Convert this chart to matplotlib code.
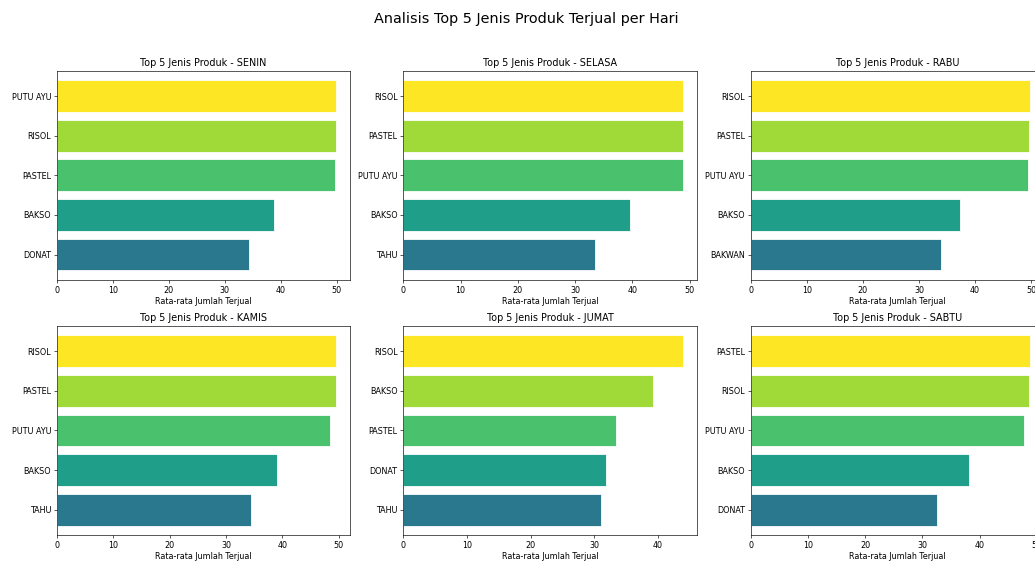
import matplotlib
matplotlib.use("Agg")
import matplotlib.pyplot as plt

# Average units sold per product, top 5 for each day
days = ["SENIN", "SELASA", "RABU", "KAMIS", "JUMAT", "SABTU"]

senin_products = ["PUTU AYU", "RISOL", "PASTEL", "BAKSO", "DONAT"]
senin_values = [49.9, 49.9, 49.7, 38.9, 34.3]

selasa_products = ["RISOL", "PASTEL", "PUTU AYU", "BAKSO", "TAHU"]
selasa_values = [48.8, 48.8, 48.8, 39.6, 33.5]

rabu_products = ["RISOL", "PASTEL", "PUTU AYU", "BAKSO", "BAKWAN"]
rabu_values = [49.8, 49.6, 49.5, 37.4, 34.0]

kamis_products = ["RISOL", "PASTEL", "PUTU AYU", "BAKSO", "TAHU"]
kamis_values = [49.5, 49.5, 48.5, 39.0, 34.5]

jumat_products = ["RISOL", "BAKSO", "PASTEL", "DONAT", "TAHU"]
jumat_values = [43.9, 39.2, 33.4, 31.9, 31.1]

sabtu_products = ["PASTEL", "RISOL", "PUTU AYU", "BAKSO", "DONAT"]
sabtu_values = [48.8, 48.6, 47.8, 38.1, 32.6]

products_by_day = [senin_products, selasa_products, rabu_products,
                   kamis_products, jumat_products, sabtu_products]
values_by_day = [senin_values, selasa_values, rabu_values,
                 kamis_values, jumat_values, sabtu_values]

# viridis shades, highest rank first
bar_colors = ["#fde725", "#a0da39", "#4ac16d", "#1f9e89", "#2a788e"]

fig = plt.figure(figsize=(18, 561 / 57.5), dpi=57.5)

col_left = [0.0548, 0.3897, 0.7253]
row_bottom = [0.501, 0.0463]
ax_w, ax_h = 0.2834, 0.373

for i, day in enumerate(days):
    r, c = divmod(i, 3)
    ax = fig.add_axes([col_left[c], row_bottom[r], ax_w, ax_h])
    prods = products_by_day[i]
    vals = values_by_day[i]
    ax.barh(range(len(prods)), vals, height=0.8, color=bar_colors,
            edgecolor="white", linewidth=1.0)
    ax.set_yticks(range(len(prods)))
    ax.set_yticklabels(prods)
    ax.invert_yaxis()
    ax.set_title(f"Top 5 Jenis Produk - {day}", fontsize=12)
    ax.set_xlabel("Rata-rata Jumlah Terjual", fontsize=10, labelpad=3)

fig.suptitle("Analisis Top 5 Jenis Produk Terjual per Hari", fontsize=18,
             x=0.5087, y=0.978)

fig.savefig("out.png", dpi=57.5)
